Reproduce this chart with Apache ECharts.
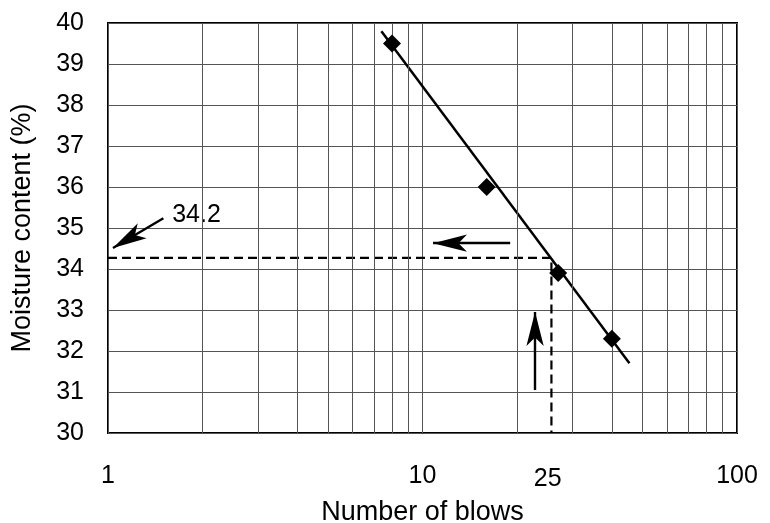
<!DOCTYPE html>
<html>
<head>
<meta charset="utf-8">
<script src="https://cdn.jsdelivr.net/npm/echarts@6/dist/echarts.min.js"></script>
<style>
html,body{margin:0;padding:0;background:#fff;}
#chart{width:770px;height:523px;}
</style>
</head>
<body>
<div id="chart"></div>
<script>
// ---- data ----
const xMin = 1, xMax = 100;
const yMin = 30, yMax = 40, yStep = 1;
const blows = [8, 16, 27, 40];
const moisture = [39.5, 36.0, 33.9, 32.3];
const fitBlows = [7.4, 45.5];
const fitMoisture = [39.8, 31.7];
const minorGridX = [2, 3, 4, 5, 6, 7, 8, 9, 20, 30, 40, 50, 60, 70, 80, 90];
const llBlows = 25.7;
const llMoisture = 34.27;
const extraTickValue = 25;
const extraTickLabel = '25';
const llLabel = '34.2';
const llLabelPos = [1.6, 35.32];
const arrowToAxis = [[1.50, 35.24], [1.037, 34.51]];
const arrowLeft = [[19.0, 34.63], [10.8, 34.63]];
const arrowUp = [[22.8, 31.05], [22.8, 32.95]];
const xTitle = 'Number of blows';
const yTitle = 'Moisture content (%)';

const FONT = '"Liberation Sans", Arial, Helvetica, sans-serif';
const chart = echarts.init(document.getElementById('chart'), null, {renderer: 'canvas'});

const option = {
  animation: false,
  backgroundColor: '#fff',
  grid: {
    left: 108, right: 33, top: 23, bottom: 90,
    outerBoundsMode: 'none', containLabel: false,
    show: true, borderColor: '#000', borderWidth: 2, backgroundColor: 'transparent'
  },
  xAxis: {
    type: 'log', logBase: 10, min: xMin, max: xMax,
    name: xTitle, nameLocation: 'middle', nameGap: 66,
    nameTextStyle: {fontSize: 27, color: '#000', fontFamily: FONT},
    axisLine: {show: false},
    axisTick: {show: false},
    axisLabel: {fontSize: 25, color: '#000', fontFamily: FONT, margin: 31},
    splitLine: {show: true, lineStyle: {color: '#555', width: 1}},
    minorTick: {show: false}, minorSplitLine: {show: false}
  },
  yAxis: {
    type: 'value', min: yMin, max: yMax, interval: yStep,
    name: yTitle, nameLocation: 'middle', nameGap: 72,
    nameTextStyle: {fontSize: 27, color: '#000', fontFamily: FONT},
    axisLine: {show: false},
    axisTick: {show: false},
    axisLabel: {fontSize: 25, color: '#000', fontFamily: FONT, margin: 24},
    splitLine: {show: true, lineStyle: {color: '#555', width: 1}}
  },
  series: [
    {
      // minor vertical grid lines
      type: 'line', data: [], silent: true,
      markLine: {
        silent: true, symbol: ['none', 'none'], label: {show: false},
        lineStyle: {color: '#555', width: 1, type: 'solid', opacity: 1},
        emphasis: {disabled: true},
        data: minorGridX.map(v => ({xAxis: v}))
      }
    },
    {
      // dashed read-off lines
      type: 'line', silent: true, symbol: 'none',
      data: [[xMin, llMoisture], [llBlows, llMoisture], [llBlows, yMin]],
      lineStyle: {color: '#000', width: 2.2, type: [9, 5], opacity: 1},
      z: 3
    },
    {
      // fitted flow line
      type: 'line', silent: true, symbol: 'none',
      data: fitBlows.map((b, i) => [b, fitMoisture[i]]),
      lineStyle: {color: '#000', width: 2.5, opacity: 1},
      z: 4
    },
    {
      // annotation arrows
      type: 'lines', coordinateSystem: 'cartesian2d', silent: true,
      symbol: ['none', 'arrow'], symbolSize: [[1, 1], [13, 34]],
      lineStyle: {color: '#000', width: 2.4, opacity: 1, curveness: 0},
      itemStyle: {color: '#000'},
      data: [{coords: arrowToAxis}, {coords: arrowLeft}, {coords: arrowUp}],
      z: 6
    },
    {
      type: 'scatter', silent: true, symbol: 'diamond', symbolSize: 18,
      itemStyle: {color: '#000', opacity: 1},
      data: blows.map((b, i) => [b, moisture[i]]),
      z: 5
    },
    {
      // extra axis label "25"
      type: 'scatter', silent: true, symbolSize: 0,
      itemStyle: {opacity: 1, color: '#000'},
      data: [[extraTickValue, yMin]],
      label: {show: true, position: 'bottom', distance: 34, formatter: extraTickLabel,
        fontSize: 25, color: '#000', fontFamily: FONT, opacity: 1}
    },
    {
      // "34.2" annotation
      type: 'scatter', silent: true, symbolSize: 0,
      itemStyle: {opacity: 1, color: '#000'},
      data: [llLabelPos],
      label: {show: true, position: 'right', distance: 0, formatter: llLabel,
        fontSize: 25, color: '#000', fontFamily: FONT, opacity: 1}
    }
  ]
};
chart.setOption(option);
</script>
</body>
</html>
